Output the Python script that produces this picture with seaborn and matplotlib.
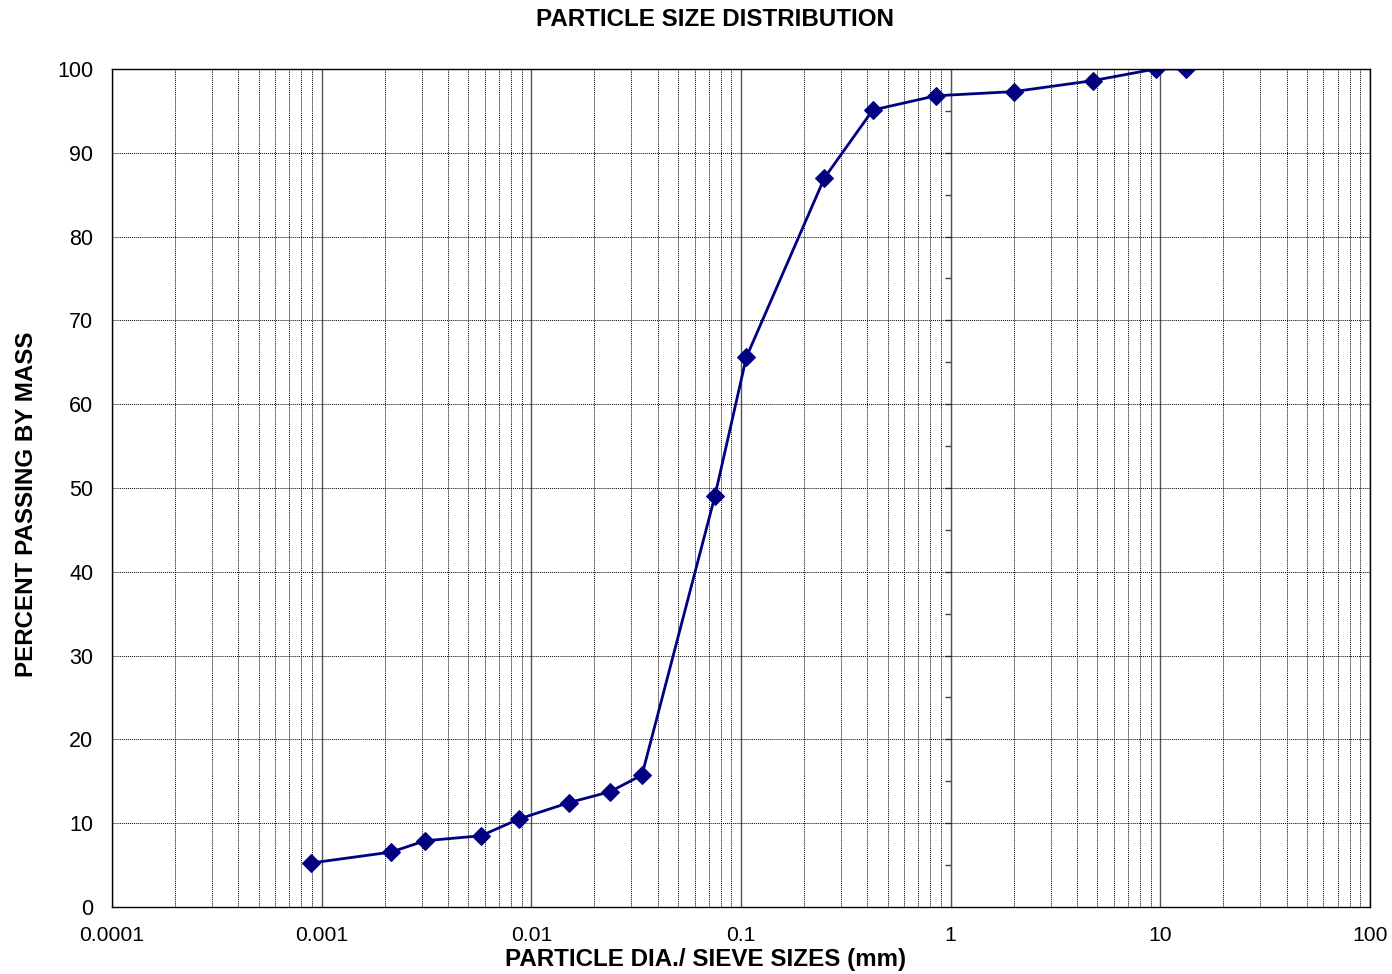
import numpy as np
import pandas as pd
import matplotlib.pyplot as plt
import matplotlib.ticker as mticker
import seaborn as sns

# particle size (mm) and percent passing
sizes = [0.00089, 0.00214, 0.00311, 0.00575, 0.00873, 0.0151, 0.0237, 0.0337,
         0.075, 0.106, 0.25, 0.425, 0.85, 2.0, 4.75, 9.5, 13.2]
passing = [5.25, 6.55, 7.9, 8.5, 10.5, 12.45, 13.75, 15.75,
           49.0, 65.6, 87.0, 95.1, 96.8, 97.3, 98.6, 100.0, 100.0]
x_ticks = [0.0001, 0.001, 0.01, 0.1, 1, 10, 100]
x_tick_labels = ['0.0001', '0.001', '0.01', '0.1', '1', '10', '100']

df = pd.DataFrame({'size': sizes, 'passing': passing})

sns.set_style('white')
plt.rcParams['font.family'] = ['Liberation Sans', 'DejaVu Sans']
plt.rcParams['text.color'] = 'black'
plt.rcParams['axes.labelcolor'] = 'black'
plt.rcParams['xtick.color'] = 'black'
plt.rcParams['ytick.color'] = 'black'

fig = plt.figure(figsize=(13.92, 9.74), dpi=100)
ax = fig.add_axes([0.0805, 0.0688, 0.9037, 0.8604])

ax.set_xscale('log')
ax.set_xlim(0.0001, 100)
ax.set_ylim(0, 100)

# grid: solid grey majors, dotted black minors on x; dotted horizontal majors
ax.xaxis.set_major_locator(mticker.FixedLocator(x_ticks))
ax.xaxis.set_minor_locator(mticker.LogLocator(base=10, subs=np.arange(2, 10)))
ax.xaxis.set_minor_formatter(mticker.NullFormatter())
ax.set_xticklabels(x_tick_labels)
ax.set_yticks(np.arange(0, 101, 10))
ax.grid(which='major', axis='x', color='#555555', linestyle='-', linewidth=1.0)
ax.grid(which='minor', axis='x', color='black', linestyle=(0, (1, 1)), linewidth=0.7)
ax.grid(which='major', axis='y', color='black', linestyle=(0, (1, 1)), linewidth=0.7)
ax.set_axisbelow(True)

sns.lineplot(data=df, x='size', y='passing', ax=ax, color='#000080',
             linewidth=2, marker='D', markersize=9, markeredgecolor='#000080')

for s in ax.spines.values():
    s.set_color('black')
    s.set_linewidth(1.0)

ax.tick_params(axis='x', which='major', direction='out', length=6, width=1,
               labelsize=15.2, pad=8)
ax.tick_params(axis='y', which='major', length=0, labelsize=15.5, pad=13.5)
ax.tick_params(axis='x', which='minor', length=0)

# secondary value axis crossing at x = 1
sec = ax.secondary_yaxis(np.log10(1 / 0.0001) / 6)
sec.set_yticks(np.arange(5, 100, 5))
sec.set_yticklabels([])
sec.tick_params(axis='y', direction='in', length=4, width=1, color='#444444')
sec.spines['left'].set_color('#555555')
sec.spines['right'].set_color('#555555')

ax.set_xlabel('PARTICLE DIA./ SIEVE SIZES (mm)', fontsize=17.4,
              fontweight='bold', labelpad=2)
ax.xaxis.label.set_x(0.472)
ax.set_ylabel('PERCENT PASSING BY MASS', fontsize=17.4, fontweight='bold',
              labelpad=14)
ax.yaxis.label.set_y(0.481)
fig.text(0.5137, 0.98, 'PARTICLE SIZE DISTRIBUTION', fontsize=17.4,
         fontweight='bold', ha='center', va='center')

plt.savefig('out.png', dpi=100)
